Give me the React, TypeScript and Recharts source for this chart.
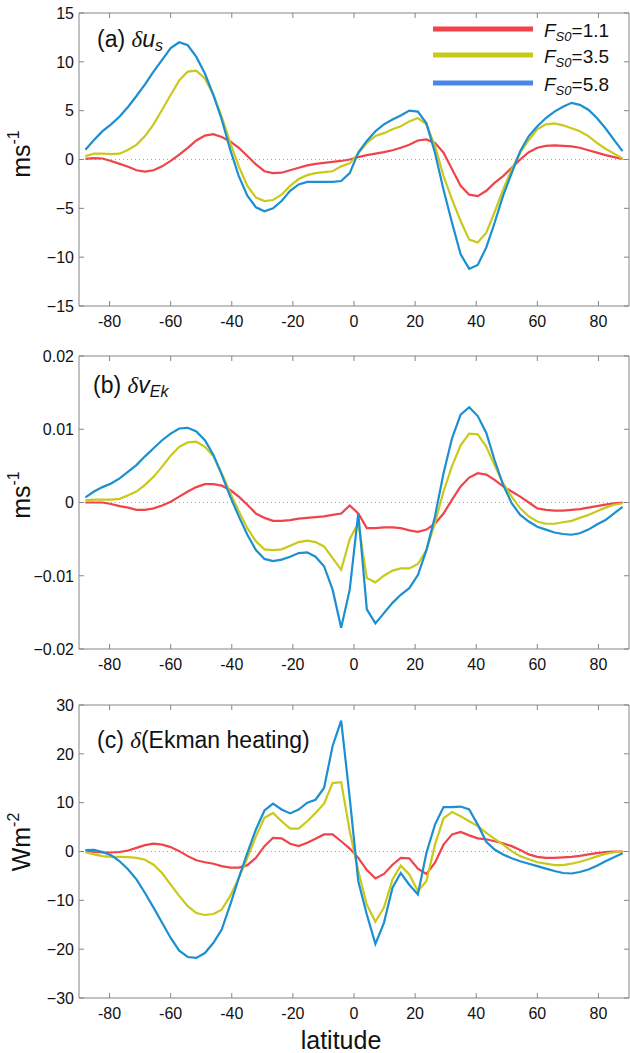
import { LineChart, Line, XAxis, YAxis, ReferenceLine } from 'recharts';

// Gaussian-grid latitudes (64 rows)
const LAT = [
  -87.9, -85.1, -82.3, -79.5, -76.7, -73.9, -71.2, -68.4, -65.6, -62.8, -60.0, -57.2, -54.4, -51.6, -48.8, -46.0,
  -43.3, -40.5, -37.7, -34.9, -32.1, -29.3, -26.5, -23.7, -20.9, -18.1, -15.3, -12.6, -9.8, -7.0, -4.2, -1.4,
  1.4, 4.2, 7.0, 9.8, 12.6, 15.3, 18.1, 20.9, 23.7, 26.5, 29.3, 32.1, 34.9, 37.7, 40.5, 43.3,
  46.0, 48.8, 51.6, 54.4, 57.2, 60.0, 62.8, 65.6, 68.4, 71.2, 73.9, 76.7, 79.5, 82.3, 85.1, 87.9,
];

// (a) delta u_s, m/s
const U_11 = [
  0.07, 0.15, 0.1, -0.15, -0.45, -0.75, -1.1, -1.25, -1.1, -0.7, -0.15, 0.5, 1.2, 1.95, 2.45, 2.6,
  2.3, 1.85, 1.2, 0.35, -0.5, -1.2, -1.4, -1.35, -1.1, -0.85, -0.6, -0.45, -0.35, -0.25, -0.15, 0.0,
  0.25, 0.45, 0.6, 0.75, 0.95, 1.2, 1.5, 1.95, 2.05, 1.7, 0.7, -1.0, -2.7, -3.6, -3.75, -3.2,
  -2.4, -1.7, -0.85, 0.0, 0.75, 1.2, 1.4, 1.45, 1.4, 1.35, 1.2, 0.95, 0.7, 0.45, 0.25, 0.05,
];
const U_35 = [
  0.35, 0.6, 0.6, 0.55, 0.6, 1.0, 1.5, 2.4, 3.6, 5.1, 6.6, 8.1, 9.0, 9.1, 8.3, 6.6,
  4.4, 1.7, -0.7, -2.7, -3.9, -4.25, -4.15, -3.6, -2.7, -2.0, -1.6, -1.4, -1.3, -1.2, -0.7, -0.4,
  0.6, 1.7, 2.4, 2.7, 3.1, 3.4, 3.9, 4.25, 3.6, 1.4, -1.7, -4.1, -6.3, -8.2, -8.5, -7.5,
  -5.4, -3.1, -1.0, 0.7, 2.0, 3.1, 3.6, 3.7, 3.5, 3.2, 2.9, 2.4, 1.7, 1.1, 0.6, 0.1,
];
const U_58 = [
  1.0, 2.0, 2.9, 3.6, 4.4, 5.4, 6.5, 7.7, 9.0, 10.2, 11.4, 12.0, 11.7, 10.5, 8.8, 6.6,
  4.1, 1.0, -1.7, -3.7, -4.9, -5.3, -5.0, -4.25, -3.2, -2.55, -2.3, -2.3, -2.3, -2.3, -2.2, -1.4,
  0.7, 1.9, 2.9, 3.6, 4.1, 4.5, 5.0, 4.9, 3.7, 0.7, -3.1, -6.5, -9.7, -11.2, -10.8, -9.0,
  -6.5, -3.7, -1.4, 0.85, 2.4, 3.4, 4.25, 4.9, 5.4, 5.8, 5.6, 5.1, 4.25, 3.2, 2.0, 0.85,
];

// (b) delta v_Ek, m/s
const V_11 = [
  0.0, 0.0, 0.0, -0.0002, -0.0005, -0.0007, -0.001, -0.001, -0.0008, -0.0004, 0.0001, 0.0008, 0.0015, 0.0021, 0.0025, 0.0025,
  0.0023, 0.0017, 0.0008, -0.0003, -0.0015, -0.0021, -0.0025, -0.0025, -0.0024, -0.0022, -0.0021, -0.002, -0.0019, -0.0017, -0.0015, -0.0004,
  -0.0015, -0.0035, -0.0035, -0.0034, -0.0034, -0.0035, -0.0038, -0.004, -0.0037, -0.0029, -0.0015, 0.0004, 0.0022, 0.0034, 0.004, 0.0038,
  0.0031, 0.0022, 0.0015, 0.0008, 0.0, -0.0008, -0.001, -0.0011, -0.0011, -0.001, -0.0009, -0.0007, -0.0005, -0.0003, -0.0001, 0.0,
];
const V_35 = [
  0.0003, 0.0004, 0.0004, 0.0004, 0.0005, 0.001, 0.0015, 0.0024, 0.0035, 0.0049, 0.0064, 0.0076, 0.0082, 0.0083, 0.0076, 0.0063,
  0.004, 0.0013, -0.0012, -0.0035, -0.0053, -0.0064, -0.0065, -0.0064, -0.0059, -0.0054, -0.0052, -0.0054, -0.006, -0.0076, -0.0092, -0.005,
  -0.0028, -0.0103, -0.0109, -0.01, -0.0093, -0.009, -0.009, -0.0084, -0.0065, -0.0028, 0.0015, 0.005, 0.0078, 0.0094, 0.0093, 0.0076,
  0.0051, 0.0026, 0.0008, -0.0008, -0.0019, -0.0026, -0.0029, -0.0029, -0.0027, -0.0025, -0.0021, -0.0017, -0.0012, -0.0007, -0.0003, -0.0001,
];
const V_58 = [
  0.0007, 0.0015, 0.0021, 0.0026, 0.0033, 0.0042, 0.0051, 0.0063, 0.0074, 0.0085, 0.0094, 0.0101, 0.0102, 0.0097, 0.0085, 0.0065,
  0.0038, 0.0008, -0.0019, -0.0044, -0.0065, -0.0077, -0.008, -0.0078, -0.0074, -0.0069, -0.0068, -0.0074, -0.0087, -0.0119, -0.0171, -0.0119,
  -0.0015, -0.0146, -0.0165, -0.0151, -0.0137, -0.0126, -0.0117, -0.0099, -0.0065, -0.0019, 0.004, 0.0088, 0.012, 0.013, 0.0118, 0.0095,
  0.0058, 0.0024, -0.0001, -0.0017, -0.0026, -0.0033, -0.0037, -0.0041, -0.0043, -0.0044, -0.0042, -0.0037, -0.003, -0.0024, -0.0015, -0.0006,
];

// (c) delta Ekman heating, W/m2
const H_11 = [
  0.2, -0.1, -0.2, -0.2, -0.1, 0.2, 0.75, 1.3, 1.6, 1.4, 0.9, 0.07, -0.95, -1.8, -2.2, -2.5,
  -3.0, -3.3, -3.3, -2.8, -1.3, 1.1, 2.8, 2.7, 1.6, 1.1, 1.8, 2.6, 3.5, 3.5, 2.1, 0.6,
  -1.3, -3.8, -5.5, -4.6, -2.7, -1.3, -1.4, -3.5, -4.6, -2.3, 1.4, 3.5, 4.0, 3.3, 2.7, 2.5,
  2.1, 1.7, 1.1, 0.3, -0.6, -1.1, -1.3, -1.3, -1.2, -1.1, -0.9, -0.6, -0.35, -0.1, 0.0, 0.0,
];
const H_35 = [
  -0.15, -0.6, -0.95, -1.1, -1.1, -1.15, -1.3, -1.7, -2.7, -4.4, -6.8, -9.1, -11.2, -12.6, -13.0, -12.8,
  -11.9, -9.1, -5.4, -1.3, 3.1, 6.9, 7.9, 6.2, 4.7, 4.7, 6.2, 7.9, 9.8, 14.0, 14.2, 4.2,
  -4.0, -10.9, -14.4, -11.5, -5.7, -2.9, -4.7, -8.1, -6.1, 1.4, 6.8, 8.1, 7.2, 6.2, 5.2, 3.8,
  2.6, 1.4, 0.07, -0.95, -1.6, -2.2, -2.5, -2.8, -2.8, -2.5, -2.1, -1.6, -1.0, -0.5, -0.15, 0.0,
];
const H_58 = [
  0.3, 0.35, -0.1, -0.75, -2.0, -3.7, -5.7, -8.5, -11.5, -14.6, -17.7, -20.3, -21.6, -21.8, -20.8, -18.7,
  -16.0, -10.9, -5.4, -0.3, 4.5, 8.4, 9.8, 8.6, 7.8, 8.6, 10.0, 10.6, 13.0, 21.6, 26.8, 11.0,
  -6.1, -12.9, -18.9, -14.6, -7.4, -4.4, -6.8, -8.8, -0.3, 5.5, 9.1, 9.1, 9.2, 8.6, 5.5, 2.0,
  0.4, -0.6, -1.4, -2.0, -2.5, -3.0, -3.5, -4.0, -4.4, -4.5, -4.2, -3.7, -2.9, -2.0, -1.2, -0.35,
];

const X_TICKS = [-80, -60, -40, -20, 0, 20, 40, 60, 80];
const U_TICKS = [-15, -10, -5, 0, 5, 10, 15];
const V_TICKS = [-0.02, -0.01, 0, 0.01, 0.02];
const H_TICKS = [-30, -20, -10, 0, 10, 20, 30];

const RED = '#f0434a';
const YELLOW = '#c9c91c';
const BLUE = '#1b8fd0';
const LEGEND_BLUE = '#4a86e8';
const AXIS = '#858585';
const FONT = '"Liberation Sans", Arial, Helvetica, sans-serif';

function rows(a: number[], b: number[], c: number[]) {
  return LAT.map((lat, i) => ({ lat, f11: a[i], f35: b[i], f58: c[i] }));
}

const fmtY = (v: number) => (v < 0 ? '\u2212' + String(-v) : String(v));

const XTick = (p: any) => (
  <g>
    <line x1={p.x} x2={p.x} y1={p.y} y2={p.y - 5} stroke={AXIS} />
    <text x={p.x} y={p.y + 21} textAnchor="middle" fontSize={16} fontFamily={FONT} fill="#111">
      {p.payload.value}
    </text>
  </g>
);
const TopTick = (p: any) => <line x1={p.x} x2={p.x} y1={p.y} y2={p.y + 5} stroke={AXIS} />;
const YTick = (p: any) => (
  <g>
    <line x1={p.x} x2={p.x + 5} y1={p.y} y2={p.y} stroke={AXIS} />
    <text x={p.x - 5} y={p.y} dy="0.36em" textAnchor="end" fontSize={16} fontFamily={FONT} fill="#111">
      {fmtY(p.payload.value)}
    </text>
  </g>
);
const RightTick = (p: any) => <line x1={p.x} x2={p.x - 5} y1={p.y} y2={p.y} stroke={AXIS} />;

function Panel({ top, data, domain, ticks }: { top: number; data: any[]; domain: [number, number]; ticks: number[] }) {
  return (
    <div style={{ position: 'absolute', left: 0, top, width: 630, height: 336 }}>
      <LineChart width={630} height={336} data={data} margin={{ top: 12, right: 0, bottom: 0, left: 9 }}>
        <XAxis type="number" dataKey="lat" domain={[-90, 90]} ticks={X_TICKS} interval={0} allowDataOverflow
          height={30} axisLine={{ stroke: AXIS }} tickLine={false} tickSize={0} tickMargin={0} tick={XTick} />
        <XAxis xAxisId="top" orientation="top" type="number" dataKey="lat" domain={[-90, 90]} ticks={X_TICKS} interval={0}
          allowDataOverflow height={1} axisLine={{ stroke: AXIS }} tickLine={false} tickSize={0} tickMargin={0} tick={TopTick} />
        <YAxis type="number" domain={domain} ticks={ticks} interval={0} allowDataOverflow width={70}
          axisLine={{ stroke: AXIS }} tickLine={false} tickSize={0} tickMargin={0} tick={YTick} />
        <YAxis yAxisId="right" orientation="right" type="number" domain={domain} ticks={ticks} interval={0} allowDataOverflow
          width={1} axisLine={{ stroke: AXIS }} tickLine={false} tickSize={0} tickMargin={0} tick={RightTick} />
        <ReferenceLine y={0} stroke="#a8a8a8" strokeDasharray="1 3" />
        <Line type="linear" dataKey="f11" stroke={RED} strokeWidth={2.2} dot={false} isAnimationActive={false} />
        <Line type="linear" dataKey="f35" stroke={YELLOW} strokeWidth={2.2} dot={false} isAnimationActive={false} />
        <Line type="linear" dataKey="f58" stroke={BLUE} strokeWidth={2.2} dot={false} isAnimationActive={false} />
      </LineChart>
    </div>
  );
}

function YLabel({ cy, base, sup }: { cy: number; base: string; sup: string }) {
  return (
    <text x={30} y={cy} transform={`rotate(-90 30 ${cy})`} textAnchor="middle" fontSize={25} fontFamily={FONT} fill="#111">
      {base}
      <tspan fontSize={16} dy={-11}>{sup}</tspan>
    </text>
  );
}

function LegendRow({ y, color, value }: { y: number; color: string; value: string }) {
  return (
    <g>
      <line x1={433} x2={533} y1={y} y2={y} stroke={color} strokeWidth={5} />
      <text x={544} y={y + 8} fontSize={19} fontFamily={FONT} fill="#111">
        <tspan fontStyle="italic">F</tspan>
        <tspan fontStyle="italic" fontSize={13} dy={4}>S0</tspan>
        <tspan dy={-4}>={value}</tspan>
      </text>
    </g>
  );
}

export default function App() {
  return (
    <div style={{ position: 'absolute', left: 0, top: 0, width: 630, height: 1053, background: '#fff' }}>
      <Panel top={0} data={rows(U_11, U_35, U_58)} domain={[-15, 15]} ticks={U_TICKS} />
      <Panel top={343} data={rows(V_11, V_35, V_58)} domain={[-0.02, 0.02]} ticks={V_TICKS} />
      <Panel top={692} data={rows(H_11, H_35, H_58)} domain={[-30, 30]} ticks={H_TICKS} />
      <svg width={630} height={1053} style={{ position: 'absolute', left: 0, top: 0, pointerEvents: 'none' }}>
        <text x={97} y={47} fontSize={23} fontFamily={FONT} fill="#111">
          (a){' '}
          <tspan fontFamily='"Liberation Serif", serif' fontStyle="italic">δ</tspan>
          <tspan fontStyle="italic">u</tspan>
          <tspan fontStyle="italic" fontSize={16} dy={4}>s</tspan>
        </text>
        <text x={93} y={393} fontSize={23} fontFamily={FONT} fill="#111">
          (b){' '}
          <tspan fontFamily='"Liberation Serif", serif' fontStyle="italic">δ</tspan>
          <tspan fontStyle="italic">v</tspan>
          <tspan fontStyle="italic" fontSize={16} dy={4}>Ek</tspan>
        </text>
        <text x={97} y={748} fontSize={23} fontFamily={FONT} fill="#111">
          (c){' '}
          <tspan fontFamily='"Liberation Serif", serif' fontStyle="italic">δ</tspan>
          <tspan>(Ekman heating)</tspan>
        </text>
        <LegendRow y={29} color={RED} value="1.1" />
        <LegendRow y={55} color={YELLOW} value="3.5" />
        <LegendRow y={83} color={LEGEND_BLUE} value="5.8" />
        <YLabel cy={154} base="ms" sup="-1" />
        <YLabel cy={495} base="ms" sup="-1" />
        <YLabel cy={842} base="Wm" sup="-2" />
        <text x={341} y={1049} textAnchor="middle" fontSize={25} fontFamily={FONT} fill="#111">latitude</text>
      </svg>
    </div>
  );
}
